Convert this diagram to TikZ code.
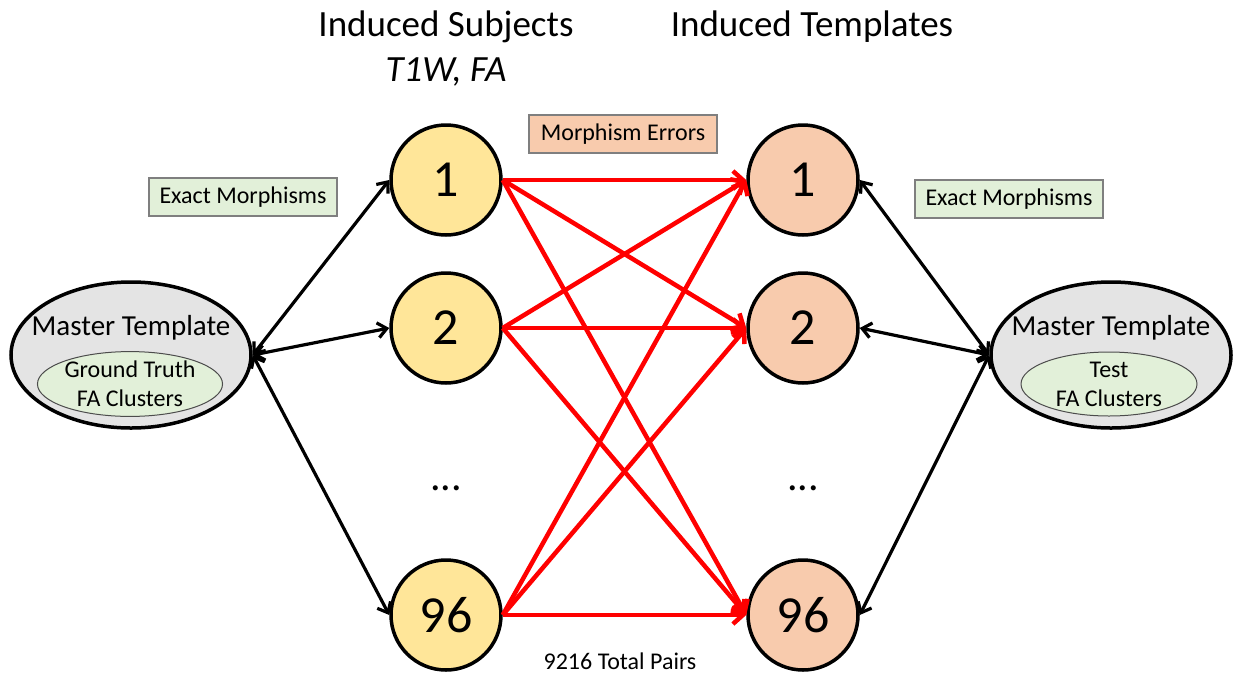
\documentclass[tikz,border=0pt]{standalone}
\usepackage{fontspec}
\setmainfont{Carlito}
\usetikzlibrary{arrows.meta,shapes.geometric}

\definecolor{subjfill}{HTML}{FFE699}
\definecolor{tmplfill}{HTML}{F8CBAD}
\definecolor{greenfill}{HTML}{E2F0D9}
\definecolor{grayfill}{HTML}{E4E4E4}
\definecolor{tagborder}{HTML}{7F7F7F}

\tikzset{
  numcircle/.style={circle, draw=black, line width=3.5pt, minimum size=110pt,
    inner sep=0pt, font=\fontsize{52}{56}\selectfont},
  subj/.style={numcircle, fill=subjfill},
  tmpl/.style={numcircle, fill=tmplfill},
  master/.style={ellipse, draw=black, line width=3.5pt, fill=grayfill,
    minimum width=240pt, minimum height=146pt, inner sep=0pt},
  cluster/.style={ellipse, draw=black!70, line width=1pt, fill=greenfill,
    minimum width=176pt, minimum height=64pt, inner sep=0pt, align=center,
    font=\fontsize{24}{29}\selectfont},
  tag/.style={rectangle, draw=tagborder, line width=1.5pt, minimum width=188pt,
    minimum height=38pt, inner sep=0pt, font=\fontsize{24}{27}\selectfont},
  head/.style={font=\fontsize{37}{40}\selectfont, inner sep=0pt},
  dots/.style={font=\fontsize{42}{44}\selectfont, inner sep=0pt},
  exact/.style={draw=black, line width=3.2pt,
    {Straight Barb[length=9pt,width=15pt]}-{Straight Barb[length=9pt,width=15pt]}},
  err/.style={draw=red, line width=4.5pt, -{Straight Barb[length=10pt,width=18pt]}}
}

\begin{document}
\begin{tikzpicture}[x=1pt,y=-1pt]
\useasboundingbox (0,0) rectangle (1233,675);

% column headings
\node[head] (hsubj) at (446,27) {Induced Subjects};
\node[head] (hmod) at (446,72) {\itshape T1W, FA};
\node[head] (htmpl) at (812,27) {Induced Templates};

% master templates with their cluster sets
\node[master] (ml) at (131,355) {};
\node[font=\fontsize{29}{32}\selectfont, inner sep=0pt] (mlt) at (131,328) {Master Template};
\node[cluster] (mlc) at (130,384) {Ground Truth\\FA Clusters};

\node[master] (mr) at (1111,355) {};
\node[font=\fontsize{29}{32}\selectfont, inner sep=0pt] (mrt) at (1111,328) {Master Template};
\node[cluster] (mrc) at (1109,384) {Test\\FA Clusters};

% induced subjects and induced templates
\node[subj] (l1) at (446,180) {1};
\node[subj] (l2) at (446,328) {2};
\node[dots] (ldots) at (446,488) {...};
\node[subj] (l96) at (446,615) {96};

\node[tmpl] (r1) at (803,180) {1};
\node[tmpl] (r2) at (803,328) {2};
\node[dots] (rdots) at (803,488) {...};
\node[tmpl] (r96) at (803,615) {96};

% labels
\node[tag, fill=greenfill] (exl) at (243,197) {Exact Morphisms};
\node[tag, fill=tmplfill] (merr) at (623,134) {Morphism Errors};
\node[tag, fill=greenfill] (exr) at (1009,199) {Exact Morphisms};
\node[font=\fontsize{24}{27}\selectfont, inner sep=0pt] (pairs) at (620,661) {9216 Total Pairs};

% exact morphisms to and from the master templates
\foreach \n in {l1,l2,l96} \draw[exact] (ml.east) -- (\n.west);
\foreach \n in {r1,r2,r96} \draw[exact] (\n.east) -- (mr.west);

% morphism errors between every pair
\foreach \a in {l1,l2,l96}
  \foreach \b in {r1,r2,r96}
    \draw[err] (\a.east) -- (\b.west);
\end{tikzpicture}
\end{document}
